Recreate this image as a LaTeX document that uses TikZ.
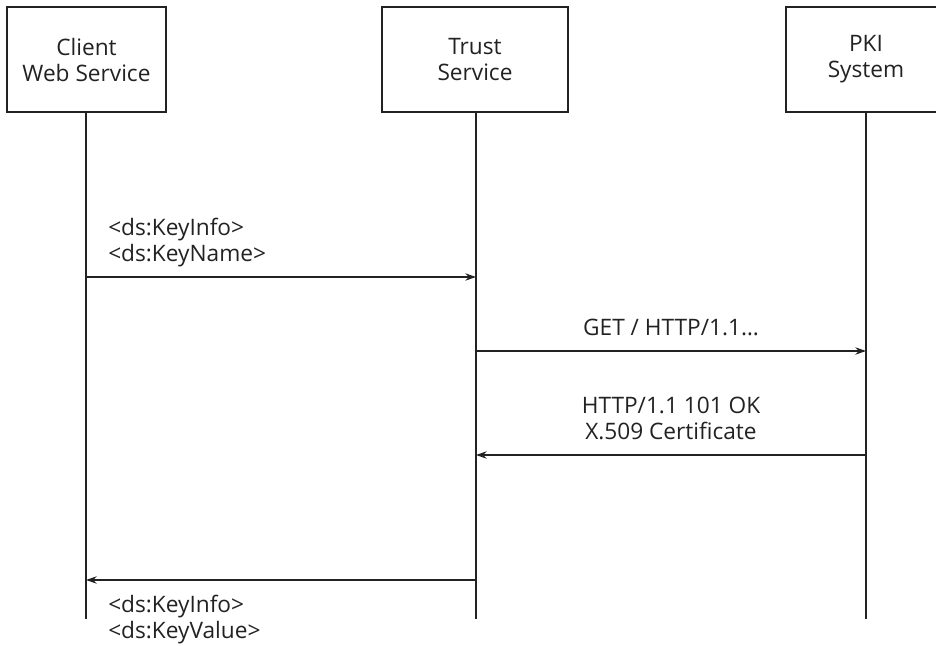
\documentclass[tikz,border=0pt]{standalone}
\usepackage{fontspec}
\setmainfont{Open Sans}
\usetikzlibrary{arrows.meta}
\definecolor{ink}{HTML}{222222}
\begin{document}
\begin{tikzpicture}[x=0.75pt,y=-0.75pt,
  actor/.style={draw=ink,line width=1.1pt,fill=white,minimum height=105*0.75pt,align=center,font=\fontsize{17}{19.5}\selectfont,text=ink,inner sep=0pt},
  life/.style={draw=ink,line width=0.9pt},
  msg/.style={draw=ink,line width=0.9pt,-{Stealth[length=8pt,width=5.5pt]}},
  lbl/.style={font=\fontsize{17}{19.5}\selectfont,text=ink,align=left,inner sep=0pt},
  clbl/.style={font=\fontsize{17}{19.5}\selectfont,text=ink,align=center,inner sep=0pt}]
\clip (0,0) rectangle (936,646);
\node[actor,minimum width=159*0.75pt] (c) at (86.5,59.5) {Client\\Web Service};
\node[actor,minimum width=186*0.75pt] (t) at (475,59.5) {Trust\\Service};
\node[actor,minimum width=160*0.75pt] (p) at (866,59.5) {PKI\\System};
\coordinate (ce) at (86,619);
\coordinate (te) at (476,619);
\coordinate (pe) at (866,619);
\draw[life] (c.south -| ce) -- (ce);
\draw[life] (t.south -| te) -- (te);
\draw[life] (p.south -| pe) -- (pe);
\coordinate (a1s) at (86,277); \coordinate (a1e) at (476,277);
\coordinate (a2s) at (476,351); \coordinate (a2e) at (866,351);
\coordinate (a3s) at (866,455); \coordinate (a3e) at (476,455);
\coordinate (a4s) at (476,580); \coordinate (a4e) at (86,580);
\draw[msg] (a1s) -- (a1e);
\draw[msg] (a2s) -- (a2e);
\draw[msg] (a3s) -- (a3e);
\draw[msg] (a4s) -- (a4e);
\node[lbl,anchor=south west] (l1) at (108,267) {<ds:KeyInfo>\\<ds:KeyName>};
\node[clbl,anchor=south] (l2) at (671,336) {GET / HTTP/1.1…};
\node[clbl,anchor=south] (l3) at (671,440) {HTTP/1.1 101 OK\\X.509 Certificate};
\node[lbl,anchor=north west] (l4) at (108,595) {<ds:KeyInfo>\\<ds:KeyValue>};
\end{tikzpicture}
\end{document}
